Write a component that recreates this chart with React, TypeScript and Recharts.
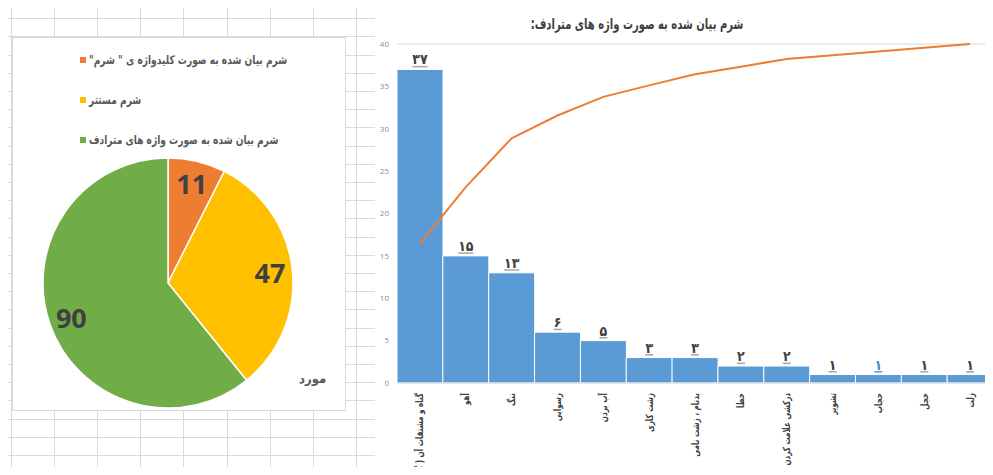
import { PieChart, Pie, Cell, Legend, ComposedChart, Bar, Line, XAxis, YAxis, CartesianGrid, LabelList } from 'recharts';

// pie: how shame is expressed
const pieNames = ['شرم بیان شده به صورت کلیدواژه ی " شرم"', 'شرم مستتر', 'شرم بیان شده به صورت واژه های مترادف'];
const pieValues = [11, 47, 90];
const pieColors = ['#ED7D31', '#FFC000', '#70AD47'];

// pareto: synonyms
const categories = [
  'گناه و مشتقات آن ( گ',
  'آهو',
  'ننگ',
  'رسوایی',
  'آب بردن',
  'زشت کاری',
  'بدنام ، زشت نامی',
  'خطا',
  'درکشی علامت کردن',
  'تشویر',
  'حجاب',
  'خجل',
  'زلت',
];
const counts = [37, 15, 13, 6, 5, 3, 3, 2, 2, 1, 1, 1, 1];
const countLabels = ['۳۷', '۱۵', '۱۳', '۶', '۵', '۳', '۳', '۲', '۲', '۱', '۱', '۱', '۱'];
const cumulativePct = [41.1, 57.8, 72.2, 78.9, 84.4, 87.8, 91.1, 93.3, 95.6, 96.7, 97.8, 98.9, 100];
const yTicks = [0, 5, 10, 15, 20, 25, 30, 35, 40];

const FA = '"DejaVu Sans Condensed", "DejaVu Sans", sans-serif';
const RAD = Math.PI / 180;

const pieData = pieNames.map((name, i) => ({ name, value: pieValues[i] }));
const barData = categories.map((name, i) => ({
  name,
  count: counts[i],
  label: countLabels[i],
  pct: cumulativePct[i],
}));

function PieLabel(props: any) {
  const { cx, cy, midAngle, outerRadius, value } = props;
  const r = outerRadius * 0.82;
  const x = cx + r * Math.cos(-midAngle * RAD);
  const y = cy + r * Math.sin(-midAngle * RAD);
  return (
    <text x={x} y={y} textAnchor="middle" dominantBaseline="central" fontSize={27} fontWeight="bold" fill="#404040" fontFamily='"Open Sans", sans-serif'>
      {value}
    </text>
  );
}

function PieLegend() {
  return (
    <div style={{ fontFamily: FA }}>
      {pieData.map((d, i) => (
        <div key={d.name} style={{ display: 'flex', alignItems: 'center', height: 20, marginBottom: i < 2 ? 20 : 0 }}>
          <span style={{ width: 6, height: 6, background: pieColors[i], marginRight: 3, flex: 'none' }} />
          <span
            dir="rtl"
            style={{ fontSize: 12, fontWeight: 'bold', color: '#595959', display: 'inline-block', transform: 'scaleX(0.84)', transformOrigin: 'left center', whiteSpace: 'nowrap' }}
          >
            {d.name}
          </span>
        </div>
      ))}
    </div>
  );
}

function CategoryTick(props: any) {
  const { x, y, payload } = props;
  const y0 = y + 2;
  return (
    <g transform={`translate(${x}, ${y0}) rotate(-90) scale(0.8, 1)`}>
      <text x={0} y={0} dy="0.35em" textAnchor="end" fontSize={10} fontWeight="bold" fill="#404040" fontFamily={FA}>
        {payload.value}
      </text>
    </g>
  );
}

function CountLabel(props: any) {
  const { x, y, width, value, index } = props;
  const cx = x + width / 2;
  const color = index === 10 ? '#4a86c5' : '#404040';
  const lineColor = index === 10 ? '#5B9BD5' : '#a6a6a6';
  const w = String(value).length * 7 + 1;
  return (
    <g>
      <text x={cx} y={y - 5} textAnchor="middle" fontSize={14} fontWeight="bold" fill={color} fontFamily={FA}>
        {value}
      </text>
      <rect x={cx - w / 2} y={y - 3.5} width={w} height={1.5} fill={lineColor} />
    </g>
  );
}

function SheetGrid() {
  const cols = Array.from({ length: 24 }, (_, k) => 11 + 43.1 * k);
  const rows = Array.from({ length: 27 }, (_, k) => 18.2 * k);
  return (
    <svg width={993} height={475} style={{ position: 'absolute', left: 0, top: 0 }}>
      {cols.map((cx) => (
        <line key={'c' + cx} x1={Math.round(cx) + 0.5} x2={Math.round(cx) + 0.5} y1={0} y2={475} stroke="#dadada" />
      ))}
      {rows.map((ry) => (
        <line key={'r' + ry} x1={0} x2={993} y1={Math.round(ry) + 0.5} y2={Math.round(ry) + 0.5} stroke="#dadada" />
      ))}
    </svg>
  );
}

export default function App() {
  return (
    <div style={{ position: 'relative', width: 993, height: 475, margin: -8, overflow: 'hidden', background: '#fff' }}>
      <SheetGrid />

      <div
        style={{
          position: 'absolute',
          left: 12,
          top: 37,
          width: 334,
          height: 374,
          background: '#fff',
          border: '1px solid #d9d9d9',
          boxSizing: 'border-box',
        }}
      >
        <PieChart width={332} height={372} margin={{ top: 0, right: 0, bottom: 0, left: 0 }}>
          <Legend content={<PieLegend />} wrapperStyle={{ position: 'absolute', left: 67, top: 12, width: 260 }} />
          <Pie
            data={pieData}
            dataKey="value"
            cx={155}
            cy={245}
            outerRadius={125}
            startAngle={90}
            endAngle={-270}
            stroke="#fff"
            strokeWidth={1.5}
            label={<PieLabel />}
            labelLine={false}
            isAnimationActive={false}
          >
            {pieData.map((d, i) => (
              <Cell key={d.name} fill={pieColors[i]} />
            ))}
          </Pie>
        </PieChart>
        <div style={{ position: 'absolute', left: 286, top: 333, fontFamily: FA, fontSize: 13, fontWeight: 'bold', color: '#595959' }}>
          مورد
        </div>
      </div>

      <div style={{ position: 'absolute', left: 375, top: 0, width: 618, height: 475, background: '#fff' }}>
        <div
          dir="rtl"
          style={{
            position: 'absolute',
            left: 0,
            top: 15,
            width: 524,
            textAlign: 'center',
            fontFamily: FA,
            fontSize: 15,
            fontWeight: 'bold',
            color: '#404040',
            transform: 'scaleX(0.74)',
            transformOrigin: 'center',
            whiteSpace: 'nowrap',
          }}
        >
          شرم بیان شده به صورت واژه های مترادف:
        </div>
        <ComposedChart width={618} height={475} data={barData} margin={{ top: 44, right: 0, bottom: 0, left: 0 }} barCategoryGap={0}>
          <CartesianGrid vertical={false} stroke="#d9d9d9" />
          <XAxis dataKey="name" interval={0} height={92} tickLine={false} axisLine={{ stroke: '#d9d9d9' }} tick={<CategoryTick />} />
          <YAxis
            yAxisId="count"
            domain={[0, 40]}
            ticks={yTicks}
            width={22}
            axisLine={false}
            tickLine={false}
            tickSize={0}
            tickMargin={8}
            tick={{ fontSize: 8, fill: '#8c8c8c', fontFamily: '"Open Sans", sans-serif' }}
          />
          <YAxis yAxisId="pct" orientation="right" domain={[0, 100]} hide />
          <Bar yAxisId="count" dataKey="count" fill="#5B9BD5" stroke="#fff" strokeWidth={1} isAnimationActive={false}>
            <LabelList dataKey="label" content={<CountLabel />} />
          </Bar>
          <Line yAxisId="pct" type="linear" dataKey="pct" stroke="#ED7D31" strokeWidth={2} dot={false} isAnimationActive={false} />
        </ComposedChart>
      </div>
    </div>
  );
}
